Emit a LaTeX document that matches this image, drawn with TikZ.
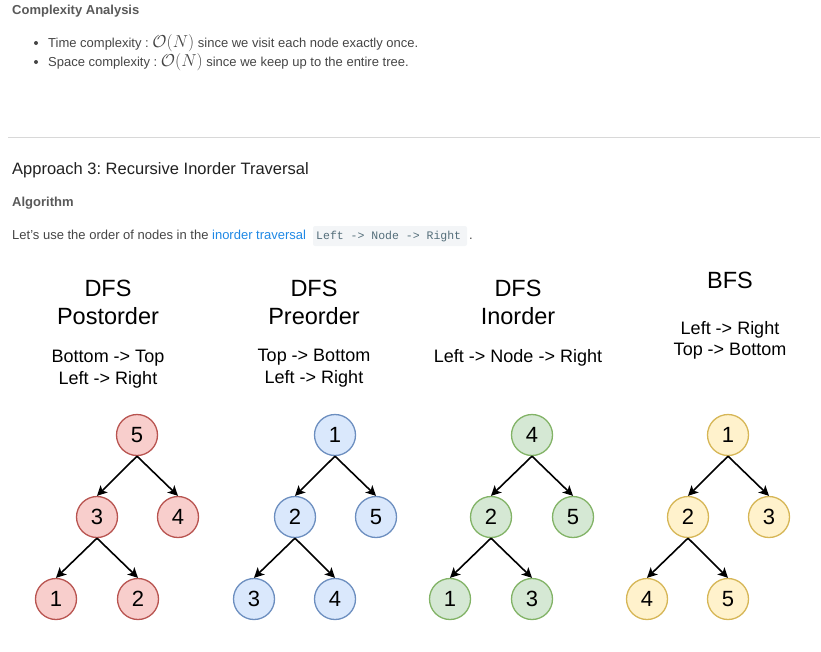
\documentclass[tikz,border=0pt]{standalone}
\usepackage{fontspec}
\setmainfont{Liberation Sans}
\setmonofont{Liberation Mono}
\usetikzlibrary{arrows.meta}
\frenchspacing
\definecolor{headgrey}{HTML}{595959}
\definecolor{bodytext}{HTML}{454545}
\definecolor{titletext}{HTML}{212121}
\definecolor{linkblue}{HTML}{1E88E5}
\definecolor{codebg}{HTML}{F3F5F7}
\definecolor{codetext}{HTML}{546E7A}
\definecolor{rulegrey}{HTML}{D8D8D8}
\definecolor{redfill}{HTML}{F8CECC}\definecolor{redline}{HTML}{B85450}
\definecolor{bluefill}{HTML}{DAE8FC}\definecolor{blueline}{HTML}{6C8EBF}
\definecolor{greenfill}{HTML}{D5E8D4}\definecolor{greenline}{HTML}{82B366}
\definecolor{yelfill}{HTML}{FFF2CC}\definecolor{yelline}{HTML}{D6B656}
\newcommand{\bigO}{{\fontsize{16.5}{18}\selectfont$\mathcal{O}(N)$}}
\tikzset{
  txt/.style={anchor=base west, inner sep=0pt, text=bodytext, font=\fontsize{13}{15}\selectfont},
  head/.style={anchor=base west, inner sep=0pt, text=headgrey, font=\bfseries\fontsize{13}{15}\selectfont},
  ttl/.style={anchor=base, inner sep=0pt, font=\fontsize{23.5}{28}\selectfont},
  sub/.style={anchor=base, inner sep=0pt, font=\fontsize{18}{21}\selectfont},
  tnode/.style={circle, minimum size=41pt, inner sep=0pt, line width=1.3pt, font=\fontsize{22}{26}\selectfont},
  rednode/.style={tnode, draw=redline, fill=redfill},
  bluenode/.style={tnode, draw=blueline, fill=bluefill},
  greennode/.style={tnode, draw=greenline, fill=greenfill},
  yelnode/.style={tnode, draw=yelline, fill=yelfill},
  edge/.style={line width=1.6pt, -{Stealth[length=10pt,width=10pt,inset=2.5pt]}},
}
\begin{document}
\begin{tikzpicture}[x=1pt,y=-1pt]
\useasboundingbox (0,0) rectangle (821,651);
% header text
\node[head] (h1) at (12,14) {Complexity Analysis};
\fill[bodytext] (36,43) circle (2pt);
\fill[bodytext] (36,62) circle (2pt);
\node[txt] (b1) at (48,47.5) {Time complexity : \bigO{} since we visit each node exactly once.};
\node[txt] (b2) at (48,66.5) {Space complexity : \bigO{} since we keep up to the entire tree.};
\draw[rulegrey, line width=1pt] (8,137) -- (820,137);
\node[anchor=base west, inner sep=0pt, text=titletext, font=\fontsize{16.5}{20}\selectfont] (ap) at (12,174) {Approach 3: Recursive Inorder Traversal};
\node[head] (alg) at (12,206.5) {Algorithm};
\node[txt] (let) at (12,239.5) {Let's use the order of nodes in the \textcolor{linkblue}{inorder traversal}};
\fill[codebg, rounded corners=2pt] (313,226) rectangle (467,246);
\node[anchor=base west, inner sep=0pt, text=codetext, font=\ttfamily\fontsize{11.5}{14}\selectfont] (code) at (316,239.5) {Left -> Node -> Right};
\node[txt] (dot) at (469,239.5) {.};
% column titles
\node[ttl] (t1a) at (108,296.5) {DFS};
\node[ttl] (t1b) at (108,324.5) {Postorder};
\node[sub] (s1a) at (108,362.5) {Bottom -> Top};
\node[sub] (s1b) at (108,384) {Left -> Right};
\node[ttl] (t2a) at (314,296.5) {DFS};
\node[ttl] (t2b) at (314,324.5) {Preorder};
\node[sub] (s2a) at (314,361.5) {Top -> Bottom};
\node[sub] (s2b) at (314,383) {Left -> Right};
\node[ttl] (t3a) at (518,296.5) {DFS};
\node[ttl] (t3b) at (518,324.5) {Inorder};
\node[sub] (s3a) at (518,362.5) {Left -> Node -> Right};
\node[ttl] (t4a) at (730,288.5) {BFS};
\node[sub] (s4a) at (730,334) {Left -> Right};
\node[sub] (s4b) at (730,355) {Top -> Bottom};
% tree 1
\node[rednode] (r5) at (137,435) {5};
\node[rednode] (r3) at (97,517) {3};
\node[rednode] (r4) at (178,517) {4};
\node[rednode] (r1) at (56,599) {1};
\node[rednode] (r2) at (138,599) {2};
\draw[edge] (r5.south) -- (r3.north);
\draw[edge] (r5.south) -- (r4.north);
\draw[edge] (r3.south) -- (r1.north);
\draw[edge] (r3.south) -- (r2.north);
% tree 2
\node[bluenode] (b1n) at (335,435) {1};
\node[bluenode] (b2n) at (295,517) {2};
\node[bluenode] (b5n) at (376,517) {5};
\node[bluenode] (b3n) at (254,599) {3};
\node[bluenode] (b4n) at (335,599) {4};
\draw[edge] (b1n.south) -- (b2n.north);
\draw[edge] (b1n.south) -- (b5n.north);
\draw[edge] (b2n.south) -- (b3n.north);
\draw[edge] (b2n.south) -- (b4n.north);
% tree 3
\node[greennode] (g4) at (532,435) {4};
\node[greennode] (g2) at (491,517) {2};
\node[greennode] (g5) at (573,517) {5};
\node[greennode] (g1) at (450,599) {1};
\node[greennode] (g3) at (532,599) {3};
\draw[edge] (g4.south) -- (g2.north);
\draw[edge] (g4.south) -- (g5.north);
\draw[edge] (g2.south) -- (g1.north);
\draw[edge] (g2.south) -- (g3.north);
% tree 4
\node[yelnode] (y1) at (728,435) {1};
\node[yelnode] (y2) at (688,517) {2};
\node[yelnode] (y3) at (769,517) {3};
\node[yelnode] (y4) at (647,599) {4};
\node[yelnode] (y5) at (728,599) {5};
\draw[edge] (y1.south) -- (y2.north);
\draw[edge] (y1.south) -- (y3.north);
\draw[edge] (y2.south) -- (y4.north);
\draw[edge] (y2.south) -- (y5.north);
\end{tikzpicture}
\end{document}
